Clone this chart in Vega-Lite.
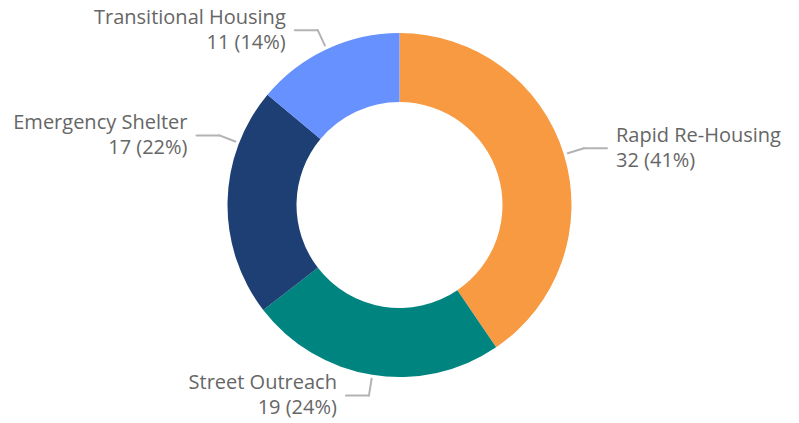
{
  "$schema": "https://vega.github.io/schema/vega-lite/v6.json",
  "width": 799,
  "height": 410,
  "autosize": {"type": "pad"},
  "padding": 0,
  "background": "white",
  "config": {"font": "Open Sans", "view": {"stroke": null}},
  "data": {"values": [
    {"category": "Rapid Re-Housing", "count": 32},
    {"category": "Street Outreach", "count": 19},
    {"category": "Emergency Shelter", "count": 17},
    {"category": "Transitional Housing", "count": 11}
  ]},
  "transform": [
    {"window": [{"op": "row_number", "as": "idx"}]},
    {"joinaggregate": [{"op": "sum", "field": "count", "as": "total"}]},
    {"window": [{"op": "sum", "field": "count", "as": "cum"}], "sort": [{"field": "idx"}], "frame": [null, 0]},
    {"calculate": "(datum.cum - datum.count/2)/datum.total*2*PI + (datum.category === 'Emergency Shelter' ? 0.349 : 0)", "as": "ang"},
    {"calculate": "sin(datum.ang) >= 0 ? 1 : -1", "as": "side"},
    {"calculate": "176*sin(datum.ang)", "as": "x0"},
    {"calculate": "-176*cos(datum.ang)", "as": "y0"},
    {"calculate": "193*sin(datum.ang)", "as": "x1"},
    {"calculate": "-193*cos(datum.ang)", "as": "y1"},
    {"calculate": "datum.x1 + datum.side*23", "as": "x2"},
    {"calculate": "datum.x2 + datum.side*9", "as": "xl"},
    {"calculate": "datum.category + '\\n' + datum.count + ' (' + round(datum.count/datum.total*100) + '%)'", "as": "label"}
  ],
  "layer": [
    {
      "mark": {"type": "arc", "outerRadius": 172, "innerRadius": 103, "stroke": null},
      "encoding": {
        "theta": {"field": "count", "type": "quantitative", "stack": true},
        "order": {"field": "idx", "sort": "ascending"},
        "color": {
          "field": "category",
          "type": "nominal",
          "scale": {
            "domain": ["Rapid Re-Housing", "Street Outreach", "Emergency Shelter", "Transitional Housing"],
            "range": ["#F79A42", "#008480", "#1D3F73", "#6691FF"]
          },
          "legend": null
        }
      }
    },
    {
      "mark": {"type": "rule", "color": "#b3b3b3", "strokeWidth": 2, "strokeCap": "round"},
      "encoding": {
        "x": {"field": "x0", "type": "quantitative", "scale": {"domain": [-399.5, 399.5], "nice": false, "zero": false}, "axis": null},
        "y": {"field": "y0", "type": "quantitative", "scale": {"domain": [-205, 205], "reverse": true, "nice": false, "zero": false}, "axis": null},
        "x2": {"field": "x1"},
        "y2": {"field": "y1"}
      }
    },
    {
      "mark": {"type": "rule", "color": "#b3b3b3", "strokeWidth": 2, "strokeCap": "round"},
      "encoding": {
        "x": {"field": "x1", "type": "quantitative", "axis": null},
        "y": {"field": "y1", "type": "quantitative", "axis": null},
        "x2": {"field": "x2"},
        "y2": {"field": "y1"}
      }
    },
    {
      "transform": [{"filter": "datum.side > 0"}],
      "mark": {"type": "text", "align": "left", "baseline": "middle", "dy": -12.5, "fontSize": 20, "lineHeight": 25, "lineBreak": "\n", "color": "#666666"},
      "encoding": {
        "x": {"field": "xl", "type": "quantitative", "axis": null},
        "y": {"field": "y1", "type": "quantitative", "axis": null},
        "text": {"field": "label"}
      }
    },
    {
      "transform": [{"filter": "datum.side < 0"}],
      "mark": {"type": "text", "align": "right", "baseline": "middle", "dy": -12.5, "fontSize": 20, "lineHeight": 25, "lineBreak": "\n", "color": "#666666"},
      "encoding": {
        "x": {"field": "xl", "type": "quantitative", "axis": null},
        "y": {"field": "y1", "type": "quantitative", "axis": null},
        "text": {"field": "label"}
      }
    }
  ]
}
